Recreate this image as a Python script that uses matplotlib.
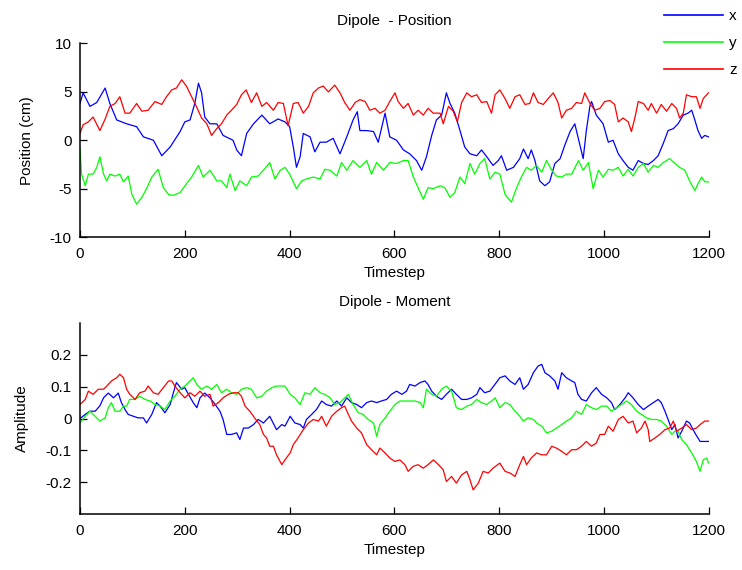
import matplotlib
matplotlib.use('Agg')
import matplotlib.pyplot as plt
from matplotlib.lines import Line2D

plt.rcParams['font.family'] = ['Liberation Sans', 'DejaVu Sans']
plt.rcParams['font.size'] = 11
plt.rcParams['axes.unicode_minus'] = False

# ---- 上图：位置 (cm) ----
pos_x_t = [0, 6, 19, 32, 48, 57, 70, 89, 108, 121, 140, 156, 172, 191, 200, 210, 219, 226, 232, 238,
           248, 261, 273, 292, 299, 308, 318, 331, 347, 362, 378, 391, 400, 407, 413, 420, 426, 439, 448, 458,
           470, 483, 496, 509, 521, 529, 534, 547, 560, 569, 582, 591, 604, 617, 629, 642, 652, 661, 671, 680,
           690, 699, 706, 715, 725, 734, 744, 757, 766, 776, 788, 798, 804, 814, 827, 839, 846, 855, 861, 868,
           877, 887, 896, 906, 916, 925, 935, 944, 950, 960, 966, 973, 976, 985, 998, 1008, 1017, 1027, 1036, 1046,
           1055, 1065, 1075, 1084, 1094, 1103, 1113, 1122, 1132, 1141, 1151, 1160, 1167, 1173, 1179, 1186, 1192, 1199]
pos_x = [3.8, 4.9, 3.5, 3.9, 5.4, 3.8, 2.1, 1.7, 1.4, 0.35, 0.0, -1.6, -0.7, 0.9, 1.9, 2.1, 3.8, 5.9, 4.9, 2.4,
         1.7, 1.7, 0.5, 0.0, -1.0, -1.6, 0.7, 1.7, 2.6, 1.7, 2.2, 1.9, 1.4, -0.7, -2.8, -1.7, 0.7, 0.35, -1.2, -0.2,
         -0.2, 0.2, -1.4, 0.35, 2.1, 2.95, 1.0, 1.0, 0.9, -0.2, 2.8, 0.35, 0.0, -1.0, -1.4, -2.1, -3.1, -1.7, 0.5, 2.1,
         2.6, 4.9, 3.8, 2.8, 1.0, -0.7, -1.4, -1.6, -1.0, -1.7, -2.6, -2.1, -1.6, -3.1, -2.8, -1.9, -0.9, -1.9, -1.0, -2.1,
         -4.2, -4.7, -4.3, -2.4, -1.9, -0.5, 0.9, 1.7, 0.35, -1.9, 1.0, 3.6, 4.0, 2.6, 1.7, -0.2, 0.0, -1.4, -2.1, -2.8,
         -3.1, -2.1, -2.4, -2.5, -2.1, -1.6, -0.3, 1.0, 1.2, 1.7, 2.6, 2.8, 3.1, 2.1, 1.0, 0.2, 0.5, 0.35]

pos_y_t = [0, 3, 10, 16, 25, 32, 38, 45, 51, 57, 67, 76, 83, 92, 99, 108, 118, 127, 137, 149,
           159, 169, 178, 191, 203, 213, 226, 235, 248, 261, 270, 280, 286, 296, 305, 318, 327, 340, 350, 362,
           372, 382, 391, 400, 413, 423, 432, 445, 458, 467, 477, 490, 499, 509, 521, 534, 547, 556, 566, 579,
           591, 604, 617, 626, 636, 645, 655, 664, 674, 687, 696, 706, 715, 725, 734, 744, 753, 763, 772, 782,
           792, 801, 811, 823, 833, 842, 852, 861, 871, 881, 890, 900, 909, 919, 928, 938, 951, 960, 970, 979,
           989, 998, 1008, 1017, 1027, 1036, 1046, 1055, 1065, 1075, 1084, 1094, 1103, 1113, 1125, 1135, 1144, 1154, 1163, 1173,
           1179, 1186, 1192, 1199]
pos_y = [-0.9, -3.5, -4.7, -3.5, -3.5, -2.8, -1.7, -3.5, -4.2, -3.5, -3.7, -3.5, -4.3, -3.7, -5.6, -6.6, -5.9, -5.0, -3.8, -3.0,
         -4.9, -5.6, -5.7, -5.4, -4.5, -3.8, -2.6, -3.8, -3.1, -4.2, -4.2, -4.9, -3.5, -5.2, -4.2, -4.7, -3.8, -3.7, -3.1, -2.3,
         -4.0, -3.1, -2.8, -3.5, -5.0, -4.2, -4.0, -3.8, -4.0, -3.0, -3.1, -3.7, -2.3, -3.1, -2.1, -2.8, -2.1, -3.5, -2.3, -3.1,
         -2.3, -2.4, -2.1, -2.1, -3.8, -4.9, -6.1, -4.9, -5.0, -4.7, -4.9, -5.9, -5.4, -3.8, -4.5, -2.4, -3.5, -2.4, -1.9, -4.0,
         -3.3, -3.5, -5.6, -6.4, -4.9, -3.8, -2.8, -3.1, -2.6, -3.3, -2.1, -3.1, -3.7, -3.8, -3.5, -3.5, -2.1, -3.1, -2.3, -5.0,
         -3.1, -3.8, -3.0, -3.1, -2.8, -3.7, -3.0, -3.7, -2.8, -2.4, -3.3, -2.6, -2.8, -2.3, -1.9, -2.4, -2.8, -3.1, -4.2, -5.2,
         -4.5, -3.8, -4.3, -4.3]

pos_z_t = [0, 6, 16, 25, 38, 48, 57, 67, 76, 86, 95, 108, 118, 130, 143, 156, 165, 175, 184, 194,
           203, 213, 222, 232, 242, 251, 261, 270, 280, 289, 299, 308, 317, 327, 337, 347, 356, 369, 378, 388,
           397, 407, 416, 426, 436, 445, 455, 464, 474, 486, 496, 505, 515, 525, 534, 544, 553, 563, 572, 582,
           591, 601, 607, 617, 626, 636, 645, 655, 664, 674, 687, 693, 703, 712, 720, 728, 738, 747, 757, 766,
           776, 785, 792, 801, 811, 820, 830, 839, 849, 858, 865, 874, 884, 893, 903, 912, 919, 928, 938, 947,
           957, 963, 973, 982, 992, 1001, 1011, 1020, 1027, 1036, 1046, 1052, 1059, 1065, 1075, 1084, 1090, 1100, 1109, 1119,
           1129, 1138, 1144, 1151, 1157, 1167, 1176, 1183, 1189, 1199]
pos_z = [0.7, 1.6, 1.9, 2.4, 1.0, 2.2, 3.5, 3.8, 4.5, 2.8, 2.8, 3.8, 3.0, 3.1, 4.0, 3.7, 4.5, 5.2, 5.4, 6.25,
         5.6, 4.5, 3.5, 2.3, 1.7, 0.5, 1.2, 1.7, 2.6, 3.1, 3.7, 4.7, 5.2, 3.9, 4.9, 3.5, 3.9, 3.1, 3.9, 3.8,
         1.5, 3.8, 3.9, 2.8, 3.5, 4.9, 5.4, 5.6, 5.0, 5.7, 4.9, 3.9, 3.1, 3.9, 4.2, 4.0, 3.1, 3.3, 2.8, 3.1,
         4.0, 4.9, 4.0, 3.3, 3.8, 2.6, 3.1, 2.6, 3.3, 2.8, 2.8, 1.7, 3.5, 3.0, 1.9, 3.9, 4.9, 4.5, 4.7, 3.9,
         4.0, 2.8, 4.7, 5.2, 4.3, 3.3, 4.5, 4.7, 3.7, 3.8, 4.9, 3.9, 3.7, 4.3, 4.9, 3.9, 2.3, 3.1, 3.3, 3.9,
         3.8, 4.9, 3.8, 3.1, 3.3, 4.0, 4.1, 3.7, 1.9, 2.3, 1.9, 0.9, 2.4, 4.0, 3.8, 3.1, 3.8, 2.8, 3.7, 3.0,
         3.8, 3.3, 2.3, 2.8, 4.7, 4.5, 4.5, 3.3, 4.3, 4.9]

# ---- 下图：偶极矩 ----
mom_x_t = [0, 10, 19, 29, 38, 45, 54, 64, 73, 79, 86, 92, 102, 111, 121, 127, 137, 146, 153, 162,
           172, 178, 184, 194, 200, 207, 216, 223, 229, 238, 248, 258, 267, 273, 280, 289, 299, 305, 312, 321,
           331, 340, 350, 362, 375, 385, 391, 401, 410, 420, 426, 432, 442, 451, 461, 470, 480, 490, 499, 509,
           518, 528, 537, 547, 556, 566, 575, 585, 594, 604, 614, 623, 629, 639, 649, 658, 664, 671, 680, 690,
           699, 709, 718, 728, 738, 747, 757, 763, 772, 782, 792, 801, 811, 820, 830, 839, 846, 855, 865, 874,
           881, 887, 896, 906, 912, 919, 928, 938, 944, 950, 957, 966, 976, 985, 995, 1005, 1014, 1020, 1030, 1040,
           1046, 1055, 1065, 1075, 1084, 1094, 1103, 1109, 1116, 1122, 1129, 1135, 1141, 1148, 1157, 1163, 1173, 1183, 1192, 1199]
mom_x = [0.0, 0.013, 0.023, 0.023, 0.04, 0.065, 0.08, 0.065, 0.08, 0.05, 0.028, 0.013, 0.007, 0.002, 0.002, -0.014, 0.013, 0.05, 0.039, 0.018,
         0.044, 0.08, 0.113, 0.092, 0.097, 0.076, 0.05, 0.034, 0.065, 0.08, 0.065, 0.044, 0.023, -0.003, -0.05, -0.05, -0.045, -0.066, -0.03, -0.03,
         -0.019, -0.003, -0.014, 0.007, -0.035, -0.019, -0.024, 0.007, -0.014, -0.019, -0.03, -0.003, 0.013, 0.028, 0.055, 0.044, 0.039, 0.055, 0.039, 0.065,
         0.05, 0.044, 0.034, 0.05, 0.055, 0.05, 0.055, 0.06, 0.076, 0.086, 0.076, 0.086, 0.107, 0.102, 0.113, 0.118, 0.107, 0.086, 0.07, 0.06,
         0.076, 0.092, 0.076, 0.06, 0.06, 0.065, 0.076, 0.097, 0.081, 0.086, 0.108, 0.128, 0.134, 0.118, 0.107, 0.128, 0.092, 0.107, 0.144, 0.165,
         0.17, 0.144, 0.134, 0.118, 0.092, 0.144, 0.128, 0.118, 0.113, 0.076, 0.06, 0.055, 0.081, 0.097, 0.076, 0.065, 0.05, 0.028, 0.044, 0.065,
         0.081, 0.065, 0.044, 0.028, 0.039, 0.05, 0.06, 0.05, 0.023, -0.003, -0.035, -0.019, -0.061, -0.04, -0.008, -0.014, -0.045, -0.072, -0.072, -0.072]

mom_y_t = [0, 10, 19, 29, 38, 48, 54, 60, 67, 76, 83, 89, 95, 105, 114, 124, 134, 143, 153, 162,
           172, 181, 191, 200, 210, 216, 223, 232, 242, 251, 261, 270, 280, 289, 299, 308, 318, 327, 337, 347,
           356, 366, 375, 385, 391, 401, 410, 420, 429, 439, 448, 458, 467, 477, 486, 496, 505, 512, 521, 531,
           540, 550, 560, 566, 572, 582, 591, 601, 610, 620, 629, 639, 649, 655, 661, 671, 680, 690, 699, 709,
           718, 728, 738, 747, 757, 766, 776, 785, 792, 801, 811, 820, 830, 839, 846, 855, 865, 871, 881, 890,
           900, 909, 919, 928, 938, 947, 957, 966, 976, 985, 995, 1005, 1014, 1024, 1033, 1043, 1052, 1062, 1071, 1081,
           1090, 1100, 1109, 1119, 1129, 1135, 1141, 1148, 1157, 1167, 1176, 1183, 1189, 1196, 1199]
mom_y = [-0.014, 0.007, 0.023, 0.007, -0.008, 0.002, 0.034, 0.05, 0.023, 0.023, 0.039, 0.039, 0.06, 0.06, 0.07, 0.06, 0.055, 0.044, 0.039, 0.028,
         0.055, 0.07, 0.092, 0.102, 0.118, 0.128, 0.107, 0.092, 0.102, 0.092, 0.107, 0.081, 0.092, 0.081, 0.076, 0.092, 0.097, 0.092, 0.065, 0.07,
         0.086, 0.097, 0.102, 0.102, 0.102, 0.076, 0.065, 0.044, 0.081, 0.076, 0.097, 0.081, 0.076, 0.065, 0.044, 0.05, 0.065, 0.076, 0.044, 0.018,
         0.013, -0.003, -0.014, -0.056, -0.019, 0.002, 0.023, 0.044, 0.055, 0.055, 0.055, 0.055, 0.05, 0.034, 0.092, 0.076, 0.07, 0.092, 0.102, 0.086,
         0.034, 0.028, 0.039, 0.044, 0.06, 0.05, 0.044, 0.055, 0.065, 0.034, 0.05, 0.044, 0.023, 0.007, -0.008, 0.002, -0.003, -0.014, -0.024, -0.045,
         -0.04, -0.03, -0.019, -0.008, 0.002, 0.023, 0.013, 0.044, 0.034, 0.028, 0.039, 0.039, 0.023, 0.034, 0.044, 0.055, 0.044, 0.023, 0.013, 0.002,
         -0.003, -0.003, -0.008, -0.024, -0.05, -0.04, -0.04, -0.066, -0.082, -0.108, -0.135, -0.166, -0.13, -0.124, -0.14]

mom_z_t = [0, 10, 16, 25, 35, 45, 51, 60, 70, 76, 83, 89, 95, 105, 114, 124, 130, 140, 149, 159,
           169, 175, 181, 191, 200, 210, 219, 229, 238, 248, 254, 264, 273, 283, 293, 302, 308, 315, 324, 334,
           343, 350, 356, 362, 369, 375, 385, 391, 401, 407, 416, 426, 436, 445, 455, 461, 470, 480, 490, 499,
           505, 512, 518, 528, 537, 547, 556, 566, 572, 582, 591, 601, 610, 620, 626, 636, 645, 655, 664, 674,
           684, 693, 699, 709, 718, 728, 738, 744, 750, 760, 769, 779, 788, 801, 811, 820, 830, 839, 846, 852,
           861, 871, 881, 890, 900, 909, 919, 928, 938, 947, 957, 966, 976, 985, 992, 1001, 1008, 1017, 1027, 1036,
           1046, 1055, 1062, 1071, 1078, 1084, 1087, 1097, 1106, 1116, 1125, 1132, 1138, 1148, 1157, 1167, 1176, 1183, 1192, 1199]
mom_z = [0.044, 0.06, 0.086, 0.076, 0.092, 0.092, 0.102, 0.118, 0.128, 0.139, 0.128, 0.092, 0.076, 0.06, 0.081, 0.086, 0.102, 0.081, 0.076, 0.097,
         0.118, 0.118, 0.102, 0.081, 0.065, 0.081, 0.07, 0.086, 0.07, 0.076, 0.039, 0.05, 0.065, 0.076, 0.081, 0.081, 0.07, 0.039, 0.023, 0.0,
         -0.019, -0.05, -0.061, -0.087, -0.087, -0.114, -0.145, -0.13, -0.108, -0.082, -0.061, -0.035, -0.014, -0.003, -0.008, 0.007, -0.024, 0.007, 0.023, 0.034,
         0.039, 0.013, -0.008, -0.03, -0.045, -0.082, -0.098, -0.114, -0.093, -0.108, -0.124, -0.135, -0.13, -0.145, -0.166, -0.15, -0.145, -0.156, -0.145, -0.13,
         -0.145, -0.161, -0.198, -0.182, -0.203, -0.177, -0.166, -0.192, -0.224, -0.203, -0.166, -0.171, -0.156, -0.14, -0.166, -0.171, -0.182, -0.145, -0.119, -0.145,
         -0.124, -0.108, -0.114, -0.114, -0.087, -0.093, -0.103, -0.114, -0.098, -0.098, -0.087, -0.072, -0.087, -0.077, -0.05, -0.05, -0.024, -0.04, -0.003, 0.007,
         -0.014, -0.008, -0.045, -0.03, -0.008, -0.035, -0.072, -0.061, -0.05, -0.035, -0.03, -0.008, -0.04, -0.03, -0.019, -0.035, -0.03, -0.019, -0.008, -0.008]

xticks = [0, 200, 400, 600, 800, 1000, 1200]
legend_labels = ['x', 'y', 'z']
colors = ['#0000ff', '#00ff00', '#ff0000']

fig = plt.figure(figsize=(7.42, 5.70), dpi=100)
ax1 = fig.add_axes([0.1078, 0.5842, 0.8477, 0.3395])
ax2 = fig.add_axes([0.1078, 0.0982, 0.8477, 0.3351])

lw = 0.9
ax1.plot(pos_x_t, pos_x, color=colors[0], lw=lw)
ax1.plot(pos_y_t, pos_y, color=colors[1], lw=lw)
ax1.plot(pos_z_t, pos_z, color=colors[2], lw=lw)
ax2.plot(mom_x_t, mom_x, color=colors[0], lw=lw)
ax2.plot(mom_y_t, mom_y, color=colors[1], lw=lw)
ax2.plot(mom_z_t, mom_z, color=colors[2], lw=lw)

ax1.set_ylim(-10, 10)
ax1.set_yticks([-10, -5, 0, 5, 10])
ax2.set_ylim(-0.3, 0.3)
ax2.set_yticks([-0.2, -0.1, 0, 0.1, 0.2])
ax2.set_yticklabels(['-0.2', '-0.1', '0', '0.1', '0.2'])

for ax in (ax1, ax2):
    ax.set_xlim(0, 1200)
    ax.set_xticks(xticks)
    ax.spines['top'].set_visible(False)
    ax.spines['right'].set_visible(False)
    ax.spines['left'].set_linewidth(1.1)
    ax.spines['bottom'].set_linewidth(1.1)
    ax.tick_params(direction='in', length=5, width=0.9, labelsize=11, pad=6)
    ax.tick_params(axis='x', pad=7.5)
    ax.set_xlabel('Timestep', fontsize=11, labelpad=3.5)

ax1.set_title('Dipole  - Position', fontsize=11, pad=13)
ax2.set_title('Dipole - Moment', fontsize=11, pad=12)
ax1.set_ylabel('Position (cm)', fontsize=11, labelpad=11)
ax2.set_ylabel('Amplitude', fontsize=11, labelpad=12)

# 图例放在右上角，无边框
handles = [Line2D([], [], color=c, lw=1.2) for c in colors]
fig.legend(handles, legend_labels, loc='upper left', bbox_to_anchor=(0.885, 0.997),
           frameon=False, fontsize=11, handlelength=3.85, handletextpad=0.4, labelspacing=0.85,
           borderaxespad=0.1)

fig.savefig('out.png', dpi=100)
